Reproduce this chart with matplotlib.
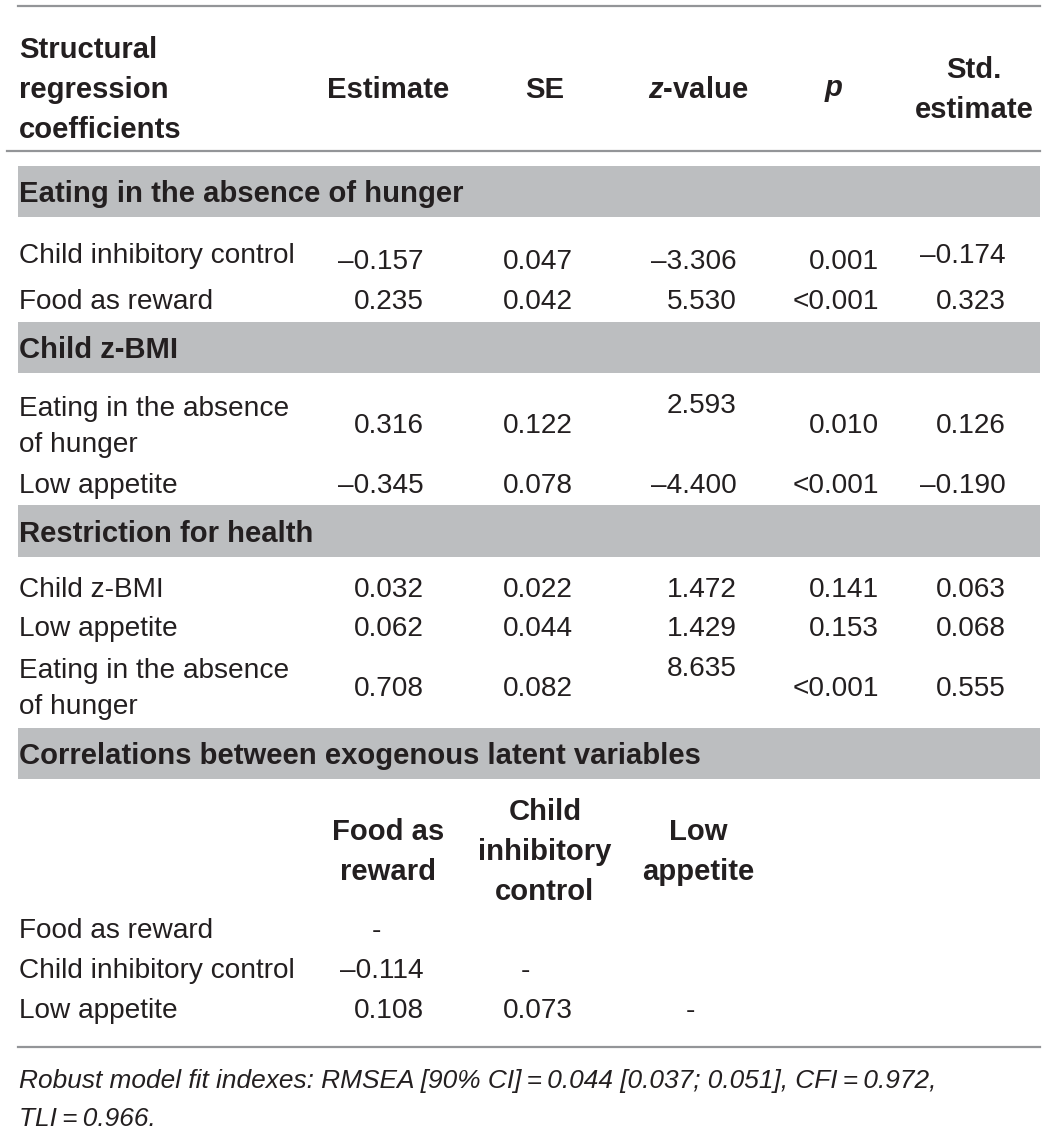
import matplotlib.pyplot as plt

plt.rcParams['font.family'] = ['Liberation Sans', 'DejaVu Sans']
plt.rcParams['mathtext.fontset'] = 'custom'
plt.rcParams['mathtext.it'] = 'Liberation Sans:bold:italic'
plt.rcParams['mathtext.rm'] = 'Liberation Sans:bold'

# ==============================
# Table data
# ==============================
MINUS = '\u2013'

header_label = ['Structural', 'regression', 'coefficients']
col_heads = ['Estimate', 'SE', '$\\it{z}$-value', '$\\it{p}$', 'Std.\nestimate']

sections = ['Eating in the absence of hunger', 'Child z-BMI', 'Restriction for health']

eah_labels = ['Child inhibitory control', 'Food as reward']
eah_est = [-0.157, 0.235]
eah_se = [0.047, 0.042]
eah_z = [-3.306, 5.530]
eah_p = ['0.001', '<0.001']
eah_std = [-0.174, 0.323]

bmi_labels = ['Eating in the absence\nof hunger', 'Low appetite']
bmi_est = [0.316, -0.345]
bmi_se = [0.122, 0.078]
bmi_z = [2.593, -4.400]
bmi_p = ['0.010', '<0.001']
bmi_std = [0.126, -0.190]

rfh_labels = ['Child z-BMI', 'Low appetite', 'Eating in the absence\nof hunger']
rfh_est = [0.032, 0.062, 0.708]
rfh_se = [0.022, 0.044, 0.082]
rfh_z = [1.472, 1.429, 8.635]
rfh_p = ['0.141', '0.153', '<0.001']
rfh_std = [0.063, 0.068, 0.555]

corr_title = 'Correlations between exogenous latent variables'
corr_heads = ['Food as\nreward', 'Child\ninhibitory\ncontrol', 'Low\nappetite']
corr_labels = ['Food as reward', 'Child inhibitory control', 'Low appetite']
corr_vals = [[None, None, None],
             [-0.114, None, None],
             [0.108, 0.073, None]]

footnote = ('Robust model fit indexes: RMSEA [90% CI]\u2009=\u20090.044 [0.037; 0.051], CFI\u2009=\u20090.972,\n'
            'TLI\u2009=\u20090.966.')

# ==============================
# Layout (pixels)
# ==============================
W, H = 1047, 1132
TXT = '#231f20'
BAND = '#bcbec0'
RULE = '#939598'
FS = 20.2
FSB = 21.1
LS = 1.55
DY = 3

x_left = 19
col_right = [424, 573, 737, 879, 1006]
col_center = [388, 545, 698, 834, 974]


def fmt(v):
    s = f'{abs(v):.3f}'
    return MINUS + s if v < 0 else s


fig = plt.figure(figsize=(W / 100, H / 100), dpi=100)
ax = fig.add_axes([0, 0, 1, 1])
ax.set_xlim(0, W)
ax.set_ylim(H, 0)
ax.axis('off')


def put(x, y, s, bold=False, ha='left', **kw):
    ax.text(x, y + DY, s, fontsize=FSB if bold else FS,
            fontweight='bold' if bold else 'normal', color=TXT,
            va='center', ha=ha, linespacing=LS, **kw)


# rules
ax.plot([18, 1040], [6, 6], color=RULE, lw=1.6)
ax.plot([7, 1040], [151, 151], color=RULE, lw=1.6)
ax.plot([18, 1040], [1047, 1047], color=RULE, lw=1.6)

# header
put(x_left, 87, '\n'.join(header_label), bold=True)
for cx, h in zip(col_center, col_heads):
    put(cx, 87, h, bold=True, ha='center')


def band(y0, y1, title):
    ax.add_patch(plt.Rectangle((18, y0), 1022, y1 - y0, color=BAND, lw=0))
    put(x_left, (y0 + y1) / 2, title, bold=True)


def rows(labels, est, se, z, p, std, ys, vys, zys, stdys):
    for i, lab in enumerate(labels):
        put(x_left, ys[i], lab)
        vals = [fmt(est[i]), fmt(se[i]), fmt(z[i]), p[i], fmt(std[i])]
        yy = [vys[i], vys[i], zys[i], vys[i], stdys[i]]
        for xr, v, y in zip(col_right, vals, yy):
            put(xr, y, v, ha='right')


band(166, 217, sections[0])
rows(eah_labels, eah_est, eah_se, eah_z, eah_p, eah_std,
     ys=[253, 299], vys=[259, 299], zys=[259, 299], stdys=[253, 299])

band(322, 373, sections[1])
rows(bmi_labels, bmi_est, bmi_se, bmi_z, bmi_p, bmi_std,
     ys=[424, 483], vys=[423, 483], zys=[403, 483], stdys=[423, 483])

band(505, 557, sections[2])
rows(rfh_labels, rfh_est, rfh_se, rfh_z, rfh_p, rfh_std,
     ys=[587, 626, 686], vys=[587, 626, 686], zys=[587, 626, 666],
     stdys=[587, 626, 686])

band(728, 779, corr_title)

# correlation block
for j, h in enumerate(corr_heads):
    put(col_center[j], 849, h, bold=True, ha='center')
corr_y = [928, 968, 1008]
dash_x = [376, 525, 690]
for i, lab in enumerate(corr_labels):
    put(x_left, corr_y[i], lab)
    for j in range(3):
        v = corr_vals[i][j]
        if j == i:
            put(dash_x[j], corr_y[i], '-', ha='center')
        elif v is not None:
            put(col_right[j], corr_y[i], fmt(v), ha='right')

# footnote
ax.text(x_left, 1097 + DY, footnote, fontsize=18.9, style='italic', color=TXT,
        va='center', ha='left', linespacing=1.7)

fig.savefig('out.png', dpi=100)
